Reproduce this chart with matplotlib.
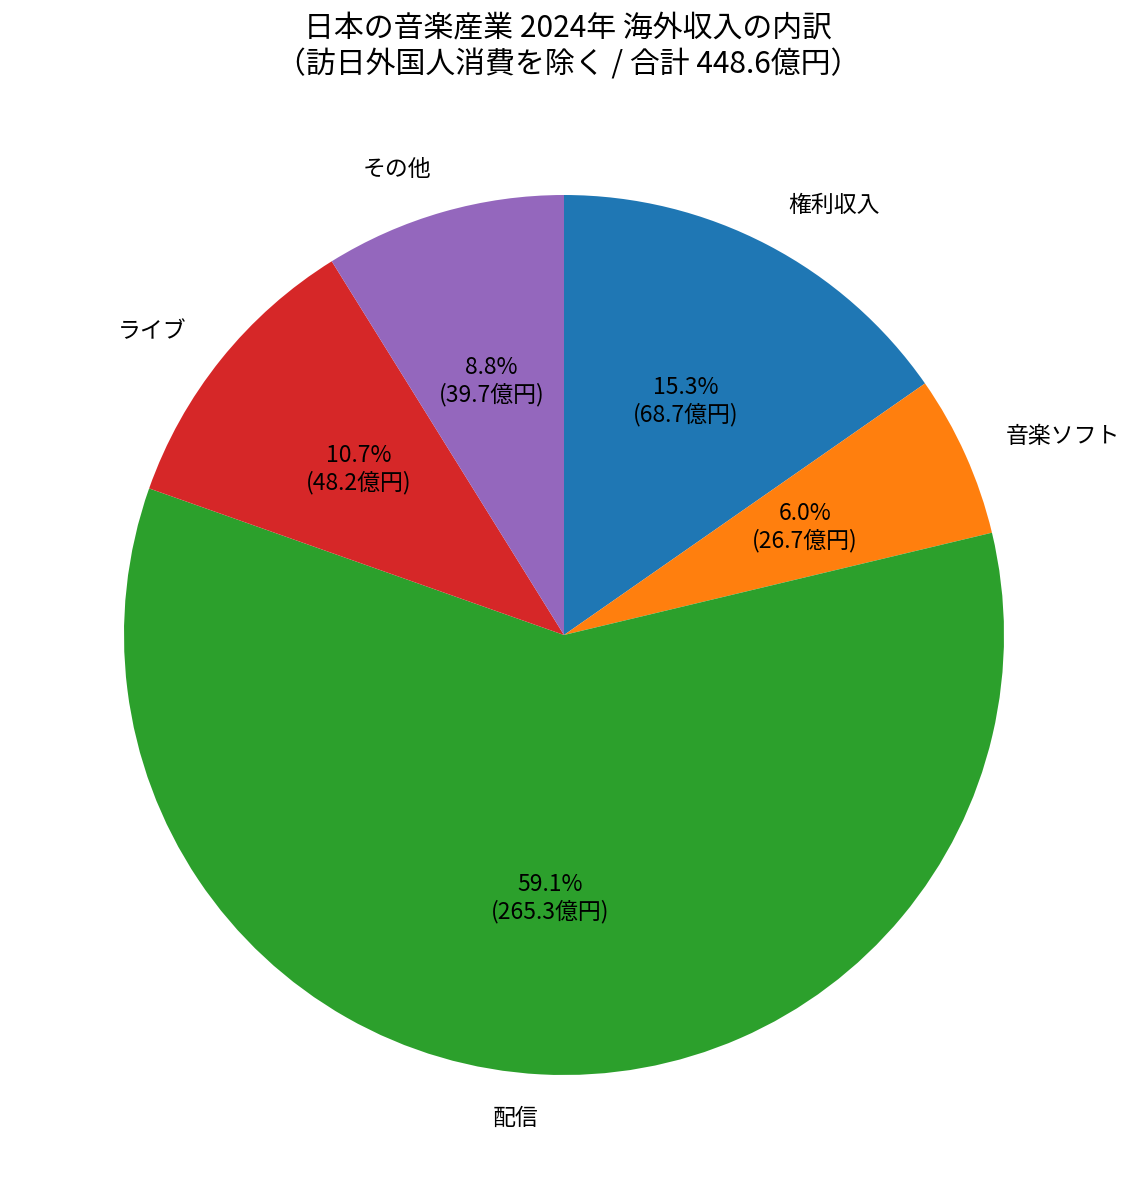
import matplotlib
matplotlib.use("Agg")
import matplotlib.pyplot as plt

plt.rcParams["font.family"] = ["Noto Sans CJK JP", "DejaVu Sans"]

# ─── data ─────────────────────────────────────────────────────────────────────
categories = ["権利収入", "音楽ソフト", "配信", "ライブ", "その他"]
values = [68.7, 26.7, 265.3, 48.2, 39.7]
colors = ["#1f77b4", "#ff7f0e", "#2ca02c", "#d62728", "#9467bd"]

total = sum(values)


def fmt(pct):
    return f"{pct:.1f}%\n({pct * total / 100:.1f}億円)"


W, H = 1136, 1200
fig = plt.figure(figsize=(W / 100, H / 100), dpi=100)

# pie centre ~ (564, 635) px, radius ~ 440 px
cx, cy, r = 564, 635, 440
ax = fig.add_axes([(cx - r) / W, (H - cy - r) / H, 2 * r / W, 2 * r / H])
ax.pie(values, labels=categories, colors=colors, autopct=fmt,
       startangle=90, counterclock=False,
       textprops={"fontsize": 16.5})
ax.set_xlim(-1, 1)
ax.set_ylim(-1, 1)
ax.set_aspect("equal")

fig.text(0.5, 1 - 47 / H,
         f"日本の音楽産業 2024年 海外収入の内訳\n（訪日外国人消費を除く / 合計 {total:.1f}億円）",
         ha="center", va="center", fontsize=21.5, linespacing=1.2)

fig.savefig("out.png", dpi=100)
